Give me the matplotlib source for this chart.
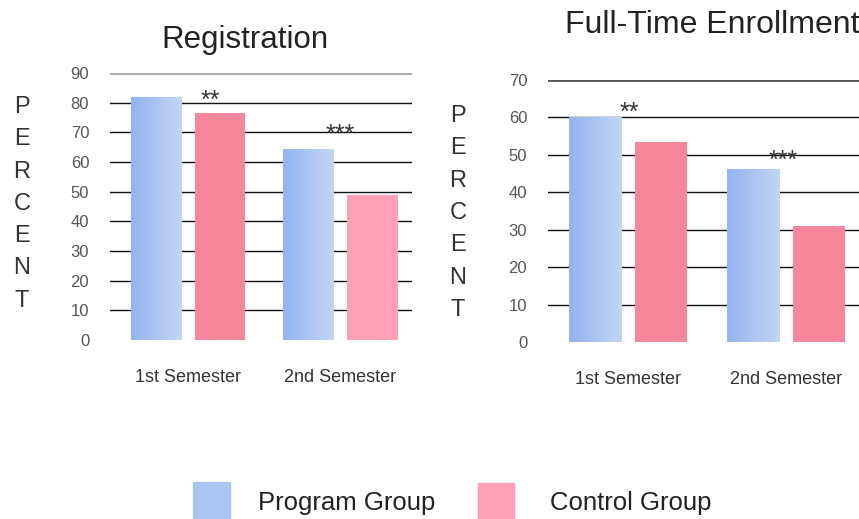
import matplotlib
matplotlib.use("Agg")
import matplotlib.pyplot as plt
import numpy as np
from matplotlib.patches import Rectangle
from matplotlib.colors import LinearSegmentedColormap

plt.rcParams['font.family'] = ['Liberation Sans', 'DejaVu Sans']

semesters = ['1st Semester', '2nd Semester']
reg_program = [82, 64.5]
reg_control = [76.5, 49]
fte_program = [60, 46.3]
fte_control = [53.5, 31]
stars = ['**', '***']

blue = '#abc5f2'
pink = '#f5869c'
blue_grad = LinearSegmentedColormap.from_list('bg', ['#92b4ef', '#abc5f2', '#c2d4f6'])

fig = plt.figure(figsize=(8.59, 5.19), dpi=100)


def draw_panel(ax, prog, ctrl, ymax, ctrl_colors, star_x, star_dy, top_col):
    x = np.arange(len(semesters))
    ax.set_ylim(0, ymax)
    ticks = np.arange(0, ymax + 1, 10)
    for t in ticks[1:-1]:
        ax.axhline(t, color='#111111', lw=1.0, zorder=1)
    ax.axhline(ticks[-1], color=top_col, lw=2.0, zorder=1)
    bars = ax.bar(x - 0.21, prog, 0.33, color=blue, zorder=2)
    ax.bar(x + 0.21, ctrl, 0.33, color=ctrl_colors, zorder=2)
    # soft left-to-right shading on the program bars
    grad = np.linspace(0, 1, 64).reshape(1, -1)
    for b in bars:
        x0, w, h = b.get_x(), b.get_width(), b.get_height()
        im = ax.imshow(grad, cmap=blue_grad, aspect='auto', extent=(x0, x0 + w, 0, h),
                       zorder=2.5, interpolation='bicubic')
        im.set_clip_path(b)
    for i, s in enumerate(stars):
        ax.text(x[i] + star_x[i], prog[i] + star_dy[i], s, ha='center', va='center',
                fontsize=18, color='#333333', zorder=3)
    ax.set_yticks(ticks)
    ax.set_yticklabels([str(t) for t in ticks], fontsize=12, color='#555555')
    ax.set_xticks(x)
    ax.set_xticklabels(semesters, fontsize=13, color='#333333')
    ax.tick_params(axis='y', length=0, pad=15)
    ax.tick_params(axis='x', length=0, pad=21)
    for sp in ax.spines.values():
        sp.set_visible(False)
    ax.patch.set_alpha(0)


ax1 = fig.add_axes([110 / 859, 179 / 519, 302 / 859, 267 / 519])
ax1.set_xlim(-0.51, 1.47)
draw_panel(ax1, reg_program, reg_control, 90, [pink, '#ffa0b8'],
           [0.15, 0.0], [-1.5, 4.8], '#aaaaaa')

ax2 = fig.add_axes([548 / 859, 177 / 519, 317 / 859, 262 / 519])
ax2.set_xlim(-0.506, 1.5)
draw_panel(ax2, fte_program, fte_control, 70, [pink, pink],
           [0.01, -0.02], [1.3, 2.1], '#555555')

fig.text(245 / 859, 1 - 40 / 519, 'Registration', ha='center', va='center',
         fontsize=22.5, color='#222222')
fig.text(565 / 859, 1 - 25 / 519, 'Full-Time Enrollment', ha='left', va='center',
         fontsize=23, color='#222222')

# stacked "PERCENT" labels
for xpix, ytop in [(22, 107), (458, 116)]:
    for i, ch in enumerate('PERCENT'):
        fig.text(xpix / 859, 1 - (ytop + i * 32.3) / 519, ch, ha='center', va='center',
                 fontsize=17, color='#333333')

# legend at the bottom
fig.patches.append(Rectangle((193 / 859, 0), 37 / 859, 37 / 519, transform=fig.transFigure,
                             color=blue))
fig.patches.append(Rectangle((478 / 859, 0), 36 / 859, 36 / 519, transform=fig.transFigure,
                             color='#ffa0b8'))
fig.text(258 / 859, 1 - 503 / 519, 'Program Group', ha='left', va='center',
         fontsize=18.5, color='#222222')
fig.text(550 / 859, 1 - 503 / 519, 'Control Group', ha='left', va='center',
         fontsize=18.5, color='#222222')

fig.savefig('out.png', dpi=100)
